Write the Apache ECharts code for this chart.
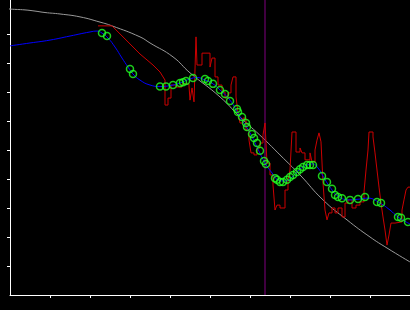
<!DOCTYPE html>
<html><head><meta charset="utf-8">
<script src="https://cdn.jsdelivr.net/npm/echarts@6/dist/echarts.min.js"></script>
<style>html,body{margin:0;padding:0;background:#000}#c{width:410px;height:310px}</style>
</head><body><div id="c"></div>
<script>
const xTicks = [1,2,3,4,5,6,7,8,9];
const yTicks = [1,2,3,4,5,6,7,8,9];
const xMax = 10;
const yMax = 10.172;
const cursorX = 6.375;

const grayCurve = [[-0.25,9.90],[0,9.86],[0.375,9.83],[0.625,9.79],[0.875,9.74],[1.25,9.69],[1.75,9.59],[2.25,9.41],[2.55,9.28],[3.25,8.90],[3.5,8.69],[4.075,8.21],[4.5,7.66],[5.25,6.83],[5.75,6.14],[6.325,5.41],[6.75,4.83],[7.25,4.14],[7.825,3.28],[8.425,2.59],[9.0,2.0],[9.425,1.62],[10,1.14]];

const blueFit = [[0,8.59],[0.5,8.69],[1.0,8.79],[1.5,8.93],[2.0,9.07],[2.175,9.10],[2.3,9.03],[2.45,8.86],[2.625,8.55],[2.8,8.17],[2.95,7.86],[3.075,7.62],[3.25,7.41],[3.5,7.24],[3.75,7.19],[4.0,7.22],[4.25,7.31],[4.5,7.45],[4.675,7.5],[4.875,7.41],[5.075,7.28],[5.25,7.07],[5.5,6.72],[5.75,6.14],[6.0,5.59],[6.2,5.03],[6.375,4.55],[6.55,4.21],[6.7,3.97],[6.875,3.93],[7.075,4.10],[7.25,4.34],[7.425,4.48],[7.575,4.52],[7.7,4.38],[7.825,4.10],[8.0,3.72],[8.2,3.41],[8.5,3.28],[8.75,3.31],[8.95,3.34],[9.2,3.21],[9.5,2.93],[9.7,2.69],[10,2.45]];

const redTrend = [[2.2,9.28],[2.55,9.28],[3.25,8.31],[3.575,7.93],[3.75,7.69],[3.875,7.41]];

const redSteps = [[3.875,7.41],[3.875,6.55],[3.95,6.79],[4.025,7.24],[4.15,7.17],[4.3,7.28],[4.475,7.21],[4.5,6.72],[4.55,7.14],[4.6,6.66],[4.65,8.90],[4.675,7.93],[4.8,8.34],[5.0,7.86],[5.05,8.17],[5.125,7.52],[5.2,7.24],[5.3,7.0],[5.375,6.79],[5.45,6.97],[5.525,7.24],[5.575,7.52],[5.65,6.83],[5.7,6.28],[5.75,5.93],[5.825,6.10],[5.9,5.69],[5.975,5.34],[6.025,4.90],[6.1,4.83],[6.175,5.07],[6.25,5.24],[6.325,5.52],[6.375,5.93],[6.425,4.55],[6.5,4.14],[6.575,3.79],[6.625,2.93],[6.675,3.10],[6.75,3.0],[6.875,3.62],[6.95,3.97],[7.0,4.31],[7.05,5.62],[7.15,4.93],[7.25,5.07],[7.3,4.90],[7.375,4.66],[7.5,4.90],[7.55,4.59],[7.625,5.0],[7.675,5.34],[7.725,5.59],[7.775,5.28],[7.825,3.86],[7.875,2.93],[7.925,2.59],[7.975,2.83],[8.05,3.0],[8.125,2.83],[8.2,3.0],[8.3,2.69],[8.375,3.17],[8.45,3.28],[8.55,3.0],[8.65,3.10],[8.75,3.21],[8.85,3.55],[8.9,4.31],[8.95,5.0],[8.975,5.62],[9.075,5.45],[9.125,4.90],[9.175,4.31],[9.225,3.72],[9.275,3.17],[9.325,2.69],[9.375,2.24],[9.425,1.72],[9.475,2.07],[9.525,2.48],[9.625,2.52],[9.8,2.93],[9.85,3.28],[9.9,3.62],[9.95,3.72],[10,3.72]];

const greenPoints = [[2.3,9.03],[2.425,8.93],[3.0,7.79],[3.075,7.62],[3.75,7.19],[3.9,7.19],[4.075,7.24],[4.25,7.31],[4.325,7.34],[4.4,7.38],[4.575,7.48],[4.875,7.45],[4.95,7.38],[5.075,7.28],[5.25,7.07],[5.375,6.93],[5.5,6.69],[5.675,6.41],[5.7,6.31],[5.8,6.14],[5.9,5.93],[5.925,5.79],[6.05,5.55],[6.1,5.41],[6.175,5.24],[6.25,4.97],[6.35,4.62],[6.4,4.52],[6.625,4.03],[6.675,3.97],[6.75,3.90],[6.825,3.90],[6.925,3.97],[7.0,4.07],[7.075,4.14],[7.175,4.24],[7.25,4.34],[7.325,4.41],[7.425,4.48],[7.5,4.48],[7.575,4.48],[7.8,4.10],[7.925,3.90],[8.05,3.66],[8.125,3.45],[8.2,3.38],[8.3,3.34],[8.5,3.28],[8.7,3.31],[8.875,3.38],[9.175,3.21],[9.275,3.17],[9.7,2.69],[9.775,2.66],[9.95,2.52]];

const chart = echarts.init(document.getElementById('c'), null, {renderer:'canvas'});
const axisCommon = {
  axisLine:{show:true, onZero:false, lineStyle:{color:'#ffffff', width:1}},
  axisTick:{show:true, inside:false, length:3, lineStyle:{color:'#ffffff', width:1}},
  axisLabel:{show:false},
  splitLine:{show:false}
};
chart.setOption({
  backgroundColor:'#000000',
  animation:false,
  grid:{left:10, right:0, top:0, bottom:15, containLabel:false},
  xAxis:Object.assign({type:'value', min:0, max:xMax}, axisCommon, {axisTick:Object.assign({}, axisCommon.axisTick, {customValues:xTicks})}),
  yAxis:Object.assign({type:'value', min:0, max:yMax}, axisCommon, {axisTick:Object.assign({}, axisCommon.axisTick, {customValues:yTicks})}),
  series:[
    {type:'line', data:grayCurve, smooth:true, showSymbol:false, clip:false, lineStyle:{color:'#9a9a9a', width:1}, z:1},
    {type:'line', data:[[cursorX,0],[cursorX,yMax]], showSymbol:false, lineStyle:{color:'#800080', width:1}, z:2},
    {type:'line', data:redTrend, showSymbol:false, lineStyle:{color:'#cc0000', width:1}, z:3},
    {type:'line', data:redSteps, step:'end', showSymbol:false, lineStyle:{color:'#cc0000', width:1}, z:3},
    {type:'line', data:blueFit, smooth:true, showSymbol:false, lineStyle:{color:'#0000ff', width:1}, z:4},
    {type:'scatter', data:greenPoints, symbol:'circle', symbolSize:7, itemStyle:{color:'rgba(0,0,0,0)', borderColor:'#22ff22', borderWidth:1.5}, z:5}
  ]
});
</script></body></html>
